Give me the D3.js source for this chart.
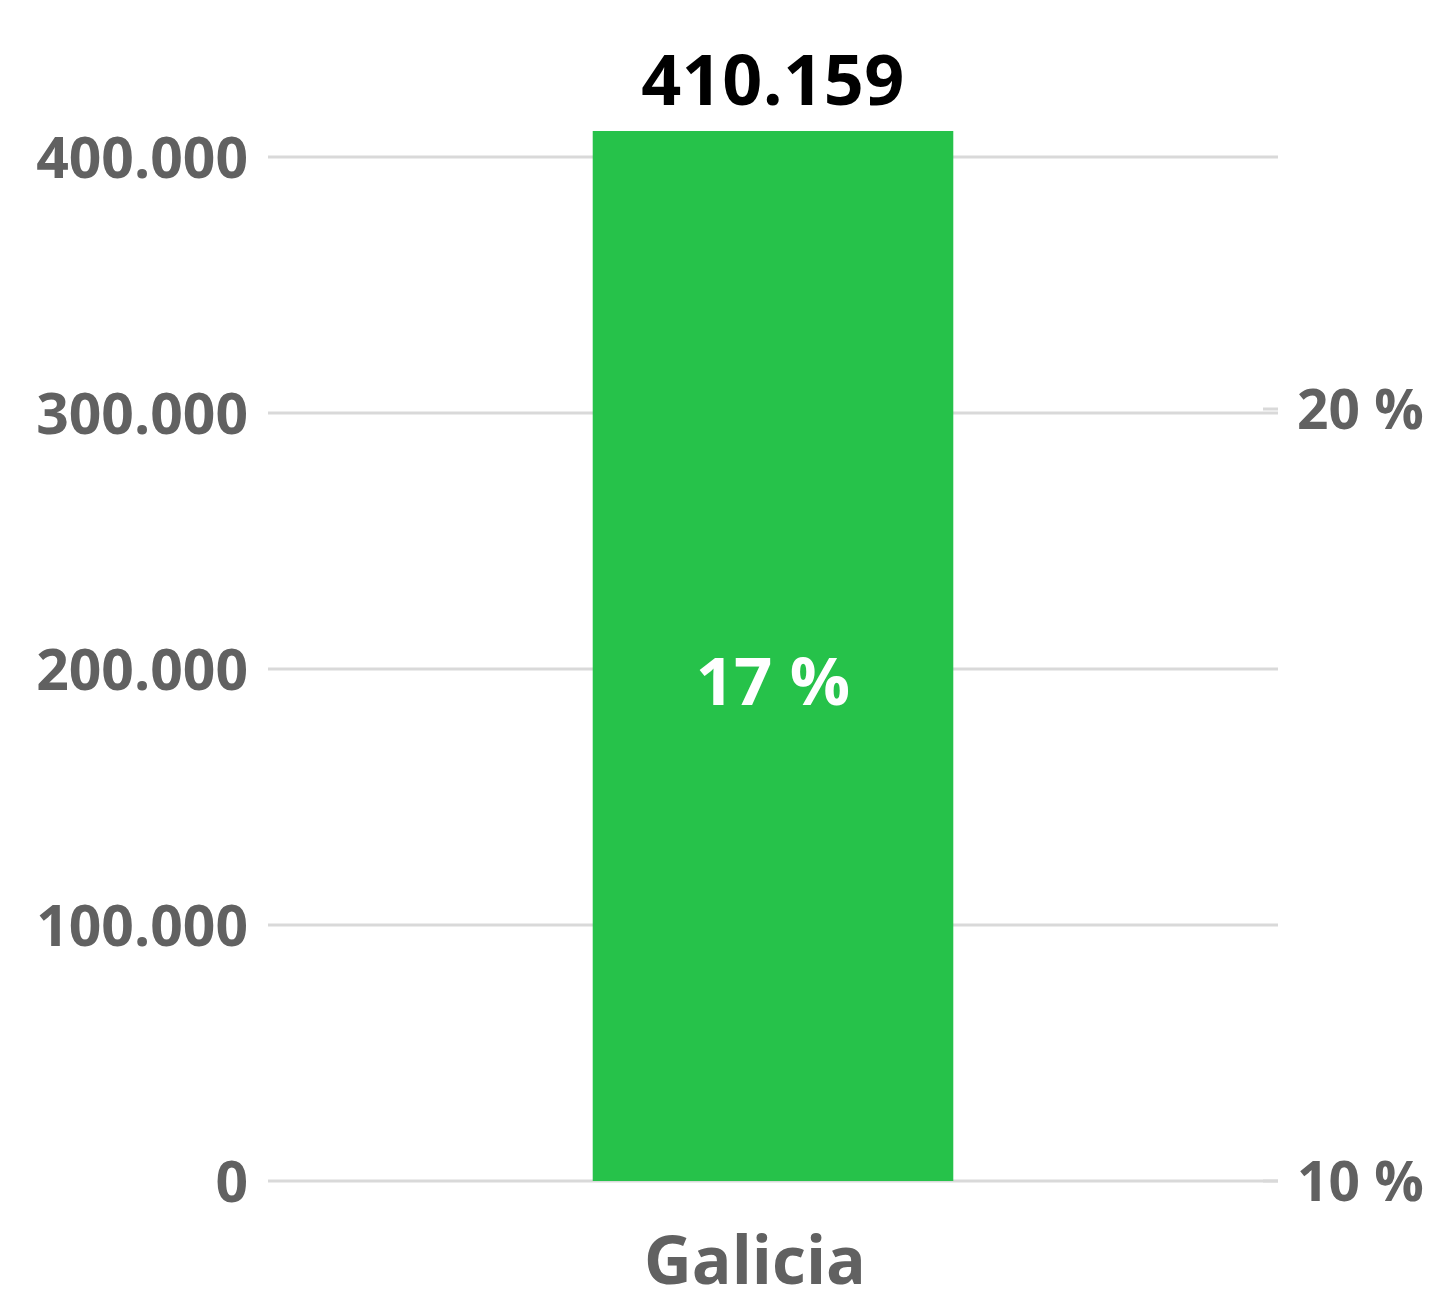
<!DOCTYPE html>
<html><head><meta charset="utf-8">
<script src="https://cdn.jsdelivr.net/npm/d3@7"></script>
<style>body{margin:0;background:#fff}svg{display:block}</style>
</head><body>
<script>
const categories = ["Galicia"];
const values = [410159];
const shares = ["17 %"];
const leftTicks = [0, 100000, 200000, 300000, 400000];
const leftTickLabels = ["0", "100.000", "200.000", "300.000", "400.000"];
const rightTicks = [0.10, 0.20];
const rightTickLabels = ["10 %", "20 %"];
const valueLabels = ["410.159"];

const W = 1433, H = 1296;
const FONT = "'Open Sans', Lato, sans-serif";
const svg = d3.select("body").append("svg").attr("width", W).attr("height", H);
const x0 = 268, x1 = 1278;
const y = d3.scaleLinear().domain([0, 400000]).range([1181, 157]);
const yR = d3.scaleLinear().domain([0.10, 0.20]).range([1181, 409]);
const x = d3.scaleBand().domain(categories).range([x0, x1]).paddingInner(0.643).paddingOuter(0.3215);

svg.append("g").selectAll("line").data(leftTicks).join("line")
  .attr("x1", x0).attr("x2", x1).attr("y1", d => y(d)).attr("y2", d => y(d))
  .attr("stroke", "#d9d9d9").attr("stroke-width", 3);

svg.append("g").selectAll("line").data(rightTicks).join("line")
  .attr("x1", 1263).attr("x2", x1).attr("y1", d => yR(d)).attr("y2", d => yR(d))
  .attr("stroke", "#d9d9d9").attr("stroke-width", 3);

svg.append("g").selectAll("text").data(leftTicks).join("text")
  .attr("x", 248).attr("y", d => y(d)).attr("dy", "0.36em")
  .attr("text-anchor", "end").attr("fill", "#616161")
  .attr("font-family", FONT).attr("font-weight", 700).attr("font-size", 57)
  .attr("letter-spacing", 0)
  .text((d, i) => leftTickLabels[i]);

svg.append("g").selectAll("text").data(rightTicks).join("text")
  .attr("x", 1297).attr("y", d => yR(d)).attr("dy", "0.36em")
  .attr("text-anchor", "start").attr("fill", "#616161")
  .attr("font-family", FONT).attr("font-weight", 700).attr("font-size", 55)
  .attr("letter-spacing", 0)
  .text((d, i) => rightTickLabels[i]);

svg.append("g").selectAll("rect").data(values).join("rect")
  .attr("x", (d, i) => x(categories[i])).attr("width", x.bandwidth())
  .attr("y", d => y(d)).attr("height", d => y(0) - y(d))
  .attr("fill", "#26c24a");

svg.append("g").selectAll("text").data(values).join("text")
  .attr("x", (d, i) => x(categories[i]) + x.bandwidth() / 2)
  .attr("y", d => y(d) - 26)
  .attr("text-anchor", "middle").attr("fill", "#000")
  .attr("font-family", FONT).attr("font-weight", 700).attr("font-size", 70)
  .attr("letter-spacing", 0.5)
  .text((d, i) => valueLabels[i]);

svg.append("g").selectAll("text").data(values).join("text")
  .attr("x", (d, i) => x(categories[i]) + x.bandwidth() / 2)
  .attr("y", 705)
  .attr("text-anchor", "middle").attr("fill", "#fff")
  .attr("font-family", FONT).attr("font-weight", 700).attr("font-size", 67)
  .attr("letter-spacing", 0)
  .text((d, i) => shares[i]);

svg.append("g").selectAll("text").data(categories).join("text")
  .attr("x", d => x(d) + x.bandwidth() / 2 - 18)
  .attr("y", 1284)
  .attr("text-anchor", "middle").attr("fill", "#616161")
  .attr("font-family", FONT).attr("font-weight", 700).attr("font-size", 66)
  .attr("letter-spacing", 0)
  .text(d => d);
</script>
</body></html>
